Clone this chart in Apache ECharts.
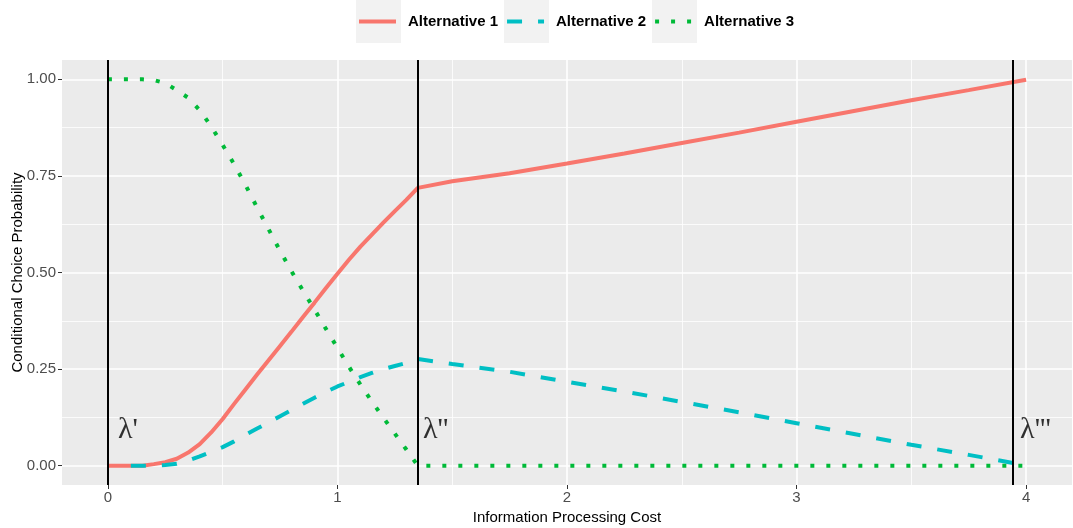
<!DOCTYPE html>
<html><head><meta charset="utf-8">
<script src="https://cdn.jsdelivr.net/npm/echarts@6/dist/echarts.min.js"></script>
<style>html,body{margin:0;padding:0;background:#fff}#c{width:1073px;height:528px}</style>
</head><body><div id="c"></div>
<script>
// ---- data ----
const cost = [0, 0.05, 0.1, 0.15, 0.2, 0.25, 0.3, 0.35, 0.4, 0.45, 0.5, 0.55, 0.6, 0.65, 0.7, 0.75, 0.8, 0.85, 0.9, 0.95, 1.0, 1.05, 1.1, 1.15, 1.2, 1.25, 1.3, 1.35, 1.5, 1.75, 2.0, 2.25, 2.5, 2.75, 3.0, 3.25, 3.5, 3.75, 4.0];
const alt1 = [0, 0, 0, 0, 0.004, 0.009, 0.018, 0.034, 0.056, 0.086, 0.121, 0.16, 0.198, 0.236, 0.273, 0.31, 0.347, 0.385, 0.422, 0.46, 0.497, 0.533, 0.567, 0.598, 0.629, 0.659, 0.688, 0.719, 0.736, 0.757, 0.782, 0.808, 0.835, 0.862, 0.89, 0.918, 0.946, 0.972, 0.999];
const alt2 = [null, null, 0, 0, 0, 0.002, 0.005, 0.013, 0.024, 0.036, 0.048, 0.063, 0.08, 0.096, 0.112, 0.128, 0.144, 0.16, 0.176, 0.191, 0.205, 0.217, 0.229, 0.24, 0.25, 0.258, 0.266, 0.276, 0.263, 0.243, 0.217, 0.192, 0.165, 0.138, 0.11, 0.082, 0.054, 0.028, 0.001];
const alt3 = [1, 1, 1, 1, 0.998, 0.99, 0.972, 0.952, 0.92, 0.878, 0.83, 0.78, 0.726, 0.668, 0.612, 0.556, 0.503, 0.453, 0.404, 0.354, 0.305, 0.256, 0.21, 0.166, 0.124, 0.083, 0.042, 0, 0, 0, 0, 0, 0, 0, 0, 0, 0, 0, 0];
const seriesNames = ['Alternative 1', 'Alternative 2', 'Alternative 3'];
const xTicks = [0, 1, 2, 3, 4];
const xMinorTicks = [0.5, 1.5, 2.5, 3.5];
const yTicks = [0, 0.25, 0.5, 0.75, 1];
const yMinorTicks = [0.125, 0.375, 0.625, 0.875];
const thresholds = [0, 1.35, 3.94];
const lambdaLabels = ["λ'", "λ''", "λ'''"];
const lambdaLabelX = [0.044, 1.373, 3.974];
const lambdaLabelY = [0.093, 0.093, 0.093];

// ---- chart ----
const colors = ['#F8766D', '#00BFC4', '#00BA38'];
const dashes = ['solid', [15, 16], [4, 12]];
const FONT = 'Liberation Sans, Arial, sans-serif';
const chart = echarts.init(document.getElementById('c'), null, {renderer: 'canvas'});

const pairs = arr => cost.map((x, i) => [x, arr[i]]);
const lineSeries = [alt1, alt2, alt3].map((arr, k) => ({
  name: seriesNames[k],
  type: 'line',
  xAxisIndex: 0, yAxisIndex: 0,
  data: pairs(arr),
  symbol: 'none',
  showSymbol: false,
  connectNulls: false,
  z: 3,
  lineStyle: {color: colors[k], width: 4, type: dashes[k], cap: 'butt'},
  itemStyle: {color: colors[k]}
}));

lineSeries[0].markLine = {
  silent: true,
  symbol: 'none',
  label: {show: false},
  animation: false,
  lineStyle: {color: '#000', width: 2, type: 'solid'},
  data: thresholds.map(v => ({xAxis: v}))
};

const labelSeries = {
  type: 'scatter',
  xAxisIndex: 0, yAxisIndex: 0,
  symbolSize: 0,
  silent: true,
  data: lambdaLabelX.map((x, i) => ({value: [x, lambdaLabelY[i]], name: lambdaLabels[i]})),
  label: {
    show: true, position: 'right', distance: 0,
    formatter: p => p.name,
    fontFamily: '"Liberation Serif", "Times New Roman", serif',
    fontSize: 30, color: '#000'
  },
  z: 5
};

const option = {
  backgroundColor: '#fff',
  animation: false,
  grid: {left: 62, right: 1, top: 60, bottom: 43, show: true, backgroundColor: '#EBEBEB', borderWidth: 0, containLabel: false, outerBoundsMode: 'none'},
  legend: {
    data: seriesNames,
    left: 357, top: 14, padding: 0,
    itemWidth: 37, itemHeight: 14, itemGap: 7,
    itemStyle: {color: 'rgba(0,0,0,0)', borderWidth: 0, opacity: 0},
    lineStyle: {width: 4},
    textStyle: {fontFamily: FONT, fontSize: 15, fontWeight: 'bold', color: '#000', padding: [0, 0, 0, 7]}
  },
  graphic: [356, 504, 652].map(x => ({
    type: 'rect', left: x, top: 0, z: -1,
    shape: {width: 45, height: 43},
    style: {fill: '#F2F2F2'}
  })),
  xAxis: [{
    type: 'value', min: -0.2, max: 4.2,
    name: 'Information Processing Cost', nameLocation: 'middle', nameGap: 24,
    nameTextStyle: {fontFamily: FONT, fontSize: 15, color: '#000'},
    axisLine: {show: false, onZero: false},
    axisTick: {show: true, length: 4, lineStyle: {color: '#333', width: 1}, customValues: xTicks},
    axisLabel: {customValues: xTicks, fontFamily: FONT, fontSize: 15, color: '#4D4D4D', margin: 5, formatter: v => String(v)},
    splitLine: {show: true, lineStyle: {color: '#fff', width: 1.6}}
  }, {
    type: 'value', min: -0.2, max: 4.2, gridIndex: 0, position: 'bottom',
    axisLine: {show: false, onZero: false}, axisLabel: {show: false},
    axisTick: {show: false, customValues: xMinorTicks},
    splitLine: {show: true, lineStyle: {color: '#fff', width: 0.8}}
  }],
  yAxis: [{
    type: 'value', min: -0.05, max: 1.05,
    name: 'Conditional Choice Probability', nameLocation: 'middle', nameGap: 37, nameRotate: 90,
    nameMoveOverlap: false,
    nameTextStyle: {fontFamily: FONT, fontSize: 15, color: '#000'},
    axisLine: {show: false, onZero: false},
    axisTick: {show: true, length: 4, lineStyle: {color: '#333', width: 1}, customValues: yTicks},
    axisLabel: {customValues: yTicks, fontFamily: FONT, fontSize: 15, color: '#4D4D4D', margin: 6, formatter: v => v.toFixed(2)},
    splitLine: {show: true, lineStyle: {color: '#fff', width: 1.6}}
  }, {
    type: 'value', min: -0.05, max: 1.05, gridIndex: 0, position: 'left',
    axisLine: {show: false, onZero: false}, axisLabel: {show: false},
    axisTick: {show: false, customValues: yMinorTicks},
    splitLine: {show: true, lineStyle: {color: '#fff', width: 0.8}}
  }],
  series: [...lineSeries, labelSeries]
};
chart.setOption(option);
</script>
</body></html>
